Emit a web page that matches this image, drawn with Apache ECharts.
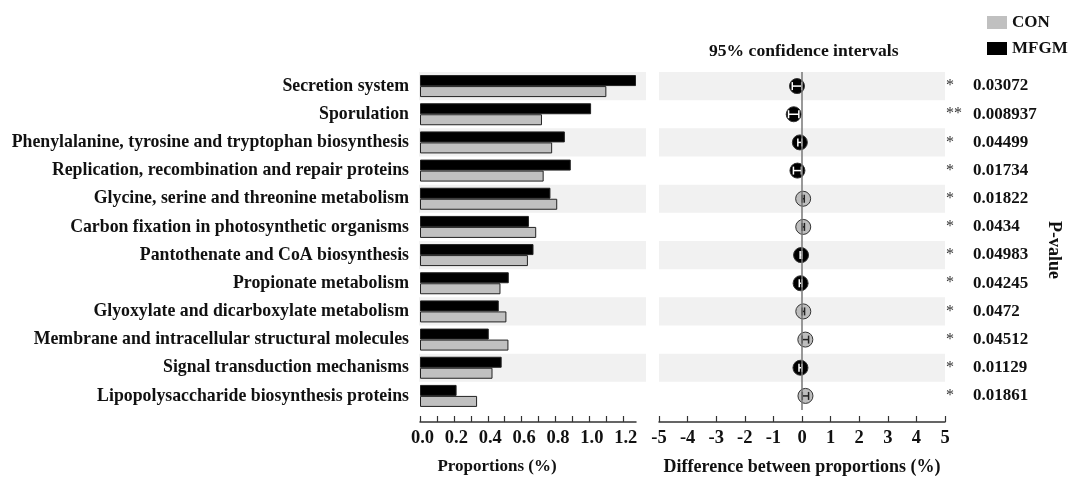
<!DOCTYPE html>
<html>
<head>
<meta charset="utf-8">
<script src="https://cdn.jsdelivr.net/npm/echarts@6/dist/echarts.min.js"></script>
<style>
html, body { margin: 0; padding: 0; background: #fff; }
#chart { width: 1069px; height: 477px; }
</style>
</head>
<body>
<div id="chart"></div>
<script>
// pathways, top to bottom
const categories = [
  "Secretion system",
  "Sporulation",
  "Phenylalanine, tyrosine and tryptophan biosynthesis",
  "Replication, recombination and repair proteins",
  "Glycine, serine and threonine metabolism",
  "Carbon fixation in photosynthetic organisms",
  "Pantothenate and CoA biosynthesis",
  "Propionate metabolism",
  "Glyoxylate and dicarboxylate metabolism",
  "Membrane and intracellular structural molecules",
  "Signal transduction mechanisms",
  "Lipopolysaccharide biosynthesis proteins"
];
const conValues = [1.10, 0.72, 0.78, 0.73, 0.81, 0.686, 0.637, 0.475, 0.51, 0.522, 0.428, 0.337];
const mfgmValues = [1.275, 1.01, 0.855, 0.89, 0.77, 0.643, 0.67, 0.524, 0.465, 0.406, 0.482, 0.216];
// difference CON - MFGM and its 95% CI
const diffValues = [-0.175, -0.29, -0.075, -0.16, 0.04, 0.043, -0.033, -0.049, 0.045, 0.116, -0.054, 0.121];
const ciLow = [-0.34, -0.47, -0.145, -0.30, 0.003, 0.002, -0.065, -0.095, 0.002, 0.005, -0.105, 0.01];
const ciHigh = [-0.01, -0.11, -0.005, -0.02, 0.08, 0.085, -0.002, -0.003, 0.09, 0.23, -0.003, 0.23];
const stars = ["*", "**", "*", "*", "*", "*", "*", "*", "*", "*", "*", "*"];
const pValues = ["0.03072", "0.008937", "0.04499", "0.01734", "0.01822", "0.0434",
  "0.04983", "0.04245", "0.0472", "0.04512", "0.01129", "0.01861"];

const FONT = '"Liberation Serif", "Times New Roman", serif';
const txt = { fontFamily: FONT, fontWeight: "bold", fontSize: 17, color: "#111" };
const txt18 = Object.assign({}, txt, { fontSize: 18 });
const tickTxt = Object.assign({}, txt, { fontSize: 18.5 });

const chart = echarts.init(document.getElementById("chart"));

const bottomAxis = {
  offset: 12,
  axisLine: { show: true, lineStyle: { color: "#333", width: 1.5 } },
  axisTick: { show: true, inside: true, length: 6, lineStyle: { color: "#333", width: 1.2 } },
  splitLine: { show: false },
  nameLocation: "middle",
  nameGap: 36
};

const option = {
  animation: false,
  backgroundColor: "#fff",
  title: {
    text: "95% confidence intervals",
    left: 704,
    top: 37,
    textStyle: Object.assign({}, txt, { fontSize: 17.6 })
  },
  legend: {
    data: ["CON", "MFGM"],
    orient: "vertical",
    left: 982,
    top: 9,
    itemWidth: 20,
    itemHeight: 13,
    itemGap: 9,
    icon: "rect",
    itemStyle: { borderWidth: 0 },
    textStyle: txt
  },
  grid: [
    { left: 419, top: 72, width: 227, height: 338, outerBoundsMode: "none" },
    { left: 420, top: 72, width: 216, height: 338, outerBoundsMode: "none" },
    { left: 659, top: 72, width: 286, height: 338, outerBoundsMode: "none" }
  ],
  xAxis: [
    { gridIndex: 0, type: "value", show: false },
    Object.assign({}, bottomAxis, {
      gridIndex: 1, type: "value", min: 0, max: 1.275, interval: 0.1,
      name: "Proportions (%)",
      nameTextStyle: Object.assign({}, txt, { padding: [0, 62, 0, 0] }),
      axisLabel: Object.assign({}, tickTxt, {
        margin: 7,
        padding: [0, 0, 0, 5],
        showMaxLabel: false,
        formatter: function (v) {
          return Math.round(v * 10) % 2 === 0 ? v.toFixed(1) : "";
        }
      })
    }),
    Object.assign({}, bottomAxis, {
      gridIndex: 2, type: "value", min: -5, max: 5, interval: 1,
      name: "Difference between proportions (%)",
      nameTextStyle: txt18,
      axisLabel: Object.assign({}, tickTxt, { margin: 7 })
    })
  ],
  yAxis: [
    {
      gridIndex: 0, type: "category", data: categories, inverse: true,
      axisLine: { show: false }, axisTick: { show: false }, axisLabel: { show: false },
      splitArea: { show: true, areaStyle: { color: ["#f1f1f1", "rgba(255,255,255,0)"] } }
    },
    {
      gridIndex: 1, type: "category", data: categories, inverse: true,
      axisLine: { show: false }, axisTick: { show: false },
      axisLabel: Object.assign({}, txt, { fontSize: 17.8, margin: 11 })
    },
    {
      gridIndex: 2, type: "category", data: categories, inverse: true,
      axisLine: { show: false }, axisTick: { show: false }, axisLabel: { show: false },
      splitArea: { show: true, areaStyle: { color: ["#f1f1f1", "rgba(255,255,255,0)"] } }
    },
    {
      gridIndex: 2, type: "category", position: "right", inverse: true,
      data: pValues.map(function (p, i) { return stars[i] + "|" + p; }),
      axisLine: { show: false }, axisTick: { show: false },
      axisLabel: {
        margin: 1,
        formatter: function (v) {
          const parts = v.split("|");
          return "{s|" + parts[0] + "}{p|" + parts[1] + "}";
        },
        rich: {
          s: { width: 27, fontFamily: FONT, fontSize: 16, color: "#333" },
          p: txt
        }
      },
      name: "P-value",
      nameLocation: "middle",
      nameRotate: -90,
      nameGap: 100,
      nameTextStyle: Object.assign({}, txt18, { padding: [0, 0, 0, 18] })
    }
  ],
  series: [
    {
      name: "MFGM", type: "bar", xAxisIndex: 1, yAxisIndex: 1,
      data: mfgmValues, barWidth: 11, barGap: "0%",
      itemStyle: { color: "#000", borderColor: "#222", borderWidth: 1 }
    },
    {
      name: "CON", type: "bar", xAxisIndex: 1, yAxisIndex: 1,
      data: conValues, barWidth: 11, barGap: "0%",
      itemStyle: { color: "#c0c0c0", borderColor: "#222", borderWidth: 1 }
    },
    {
      name: "diff", type: "scatter", xAxisIndex: 2, yAxisIndex: 2,
      symbolSize: 15,
      data: diffValues.map(function (d, i) {
        return { value: [d, i], itemStyle: { color: d < 0 ? "#000" : "#bdbdbd" } };
      }),
      itemStyle: { borderColor: "#333", borderWidth: 1, opacity: 1 },
      z: 3
    },
    {
      name: "ci", type: "custom", xAxisIndex: 2, yAxisIndex: 2,
      data: ciLow.map(function (lo, i) { return [lo, ciHigh[i], i, diffValues[i]]; }),
      encode: { x: 0, y: 2 },
      renderItem: function (params, api) {
        const a = api.coord([api.value(0), api.value(2)]);
        const b = api.coord([api.value(1), api.value(2)]);
        const col = api.value(3) < 0 ? "#fff" : "#222";
        const st = { stroke: col, lineWidth: 1.5 };
        return {
          type: "group",
          children: [
            { type: "line", shape: { x1: a[0], y1: a[1], x2: b[0], y2: b[1] }, style: st },
            { type: "line", shape: { x1: a[0], y1: a[1] - 4, x2: a[0], y2: a[1] + 4 }, style: st },
            { type: "line", shape: { x1: b[0], y1: b[1] - 4, x2: b[0], y2: b[1] + 4 }, style: st }
          ]
        };
      },
      z: 4
    },
    {
      // zero reference line through the CI panel
      name: "zero", type: "custom", xAxisIndex: 2, yAxisIndex: 2,
      data: [[0, 0]],
      encode: { x: 0, y: 1 },
      renderItem: function (params, api) {
        const cs = params.coordSys;
        const x = api.coord([api.value(0), 0])[0];
        return {
          type: "line",
          shape: { x1: x, y1: cs.y, x2: x, y2: cs.y + cs.height },
          style: { stroke: "#777", lineWidth: 1.5 }
        };
      },
      z: 5
    }
  ]
};

chart.setOption(option);
</script>
</body>
</html>
